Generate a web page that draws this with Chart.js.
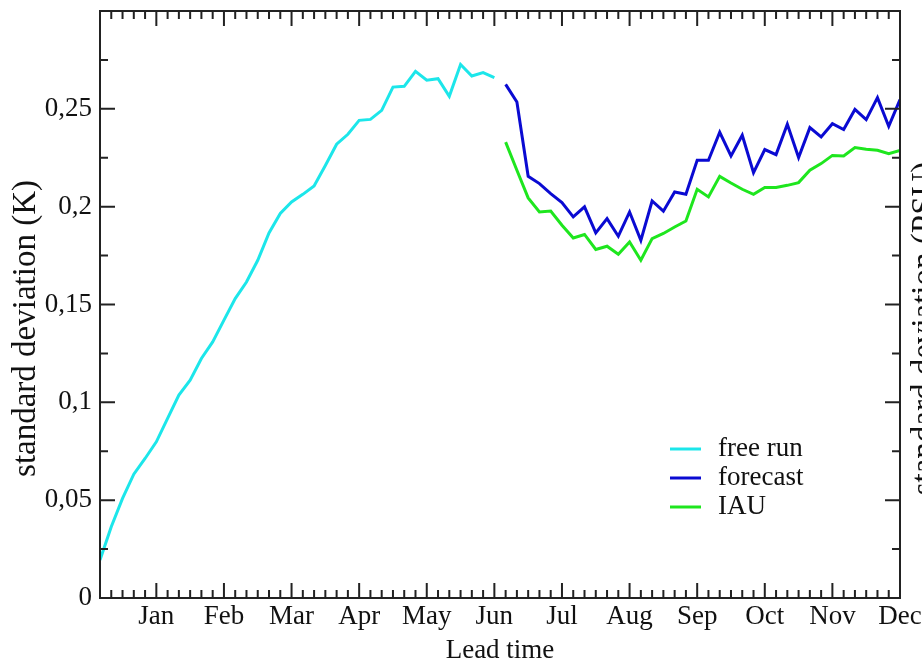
<!DOCTYPE html>
<html>
<head>
<meta charset="utf-8">
<script src="https://cdn.jsdelivr.net/npm/chart.js@4.4.1/dist/chart.umd.min.js"></script>
<style>
    html, body { margin: 0; padding: 0; background: #fff; overflow: hidden; }
    #caixa { width: 922px; height: 667px; }
</style>
</head>
<body>
<div id="caixa"><canvas id="graficoDesvio" width="922" height="667"></canvas></div>
<script>
// Passos de lead time (1..72), um mês = 6 passos
const meses = ['Jan', 'Feb', 'Mar', 'Apr', 'May', 'Jun', 'Jul', 'Aug', 'Sep', 'Oct', 'Nov', 'Dec'];
const posicaoMeses = [6, 12, 18, 24, 30, 36, 42, 48, 54, 60, 66, 72];
const yValoresTicks = [0, 0.05, 0.1, 0.15, 0.2, 0.25, 0.3];
const yRotulos = ['0', '0,05', '0,1', '0,15', '0,2', '0,25', ''];

const inicioFreeRun = 1;
const inicioForecast = 37;

const freeRun = [
    0.0194, 0.0364, 0.0509, 0.0633, 0.0713, 0.0798, 0.0918, 0.1037, 0.1113, 0.1224,
    0.1309, 0.1420, 0.1530, 0.1615, 0.1726, 0.1866, 0.1965, 0.2024, 0.2063, 0.2106,
    0.2210, 0.2319, 0.2370, 0.2441, 0.2446, 0.2492, 0.2611, 0.2615, 0.2692, 0.2646,
    0.2654, 0.2564, 0.2727, 0.2668, 0.2685, 0.2660
];
const forecast = [
    0.2625, 0.2535, 0.2155, 0.2118, 0.2067, 0.2021, 0.1948, 0.1999, 0.1866, 0.1939,
    0.1849, 0.1973, 0.1828, 0.2029, 0.1977, 0.2075, 0.2063, 0.2237, 0.2237, 0.2380,
    0.2259, 0.2365, 0.2174, 0.2292, 0.2266, 0.2421, 0.2251, 0.2404, 0.2356, 0.2424,
    0.2394, 0.2497, 0.2445, 0.2557, 0.2411, 0.2547
];
const iau = [
    0.2330, 0.2186, 0.2045, 0.1973, 0.1978, 0.1905, 0.1840, 0.1858, 0.1781, 0.1798,
    0.1757, 0.1820, 0.1726, 0.1837, 0.1863, 0.1896, 0.1927, 0.2089, 0.2050, 0.2155,
    0.2121, 0.2089, 0.2063, 0.2098, 0.2098, 0.2109, 0.2123, 0.2186, 0.2220, 0.2262,
    0.2259, 0.2302, 0.2293, 0.2288, 0.2271, 0.2288
];

const tituloEsquerda = 'standard deviation (K)';
const tituloDireita = 'standard deviation (PSU)';
const FONTE = "'Liberation Serif', 'Times New Roman', serif";

document.addEventListener("DOMContentLoaded", () => {
    criarGrafico();
});

// Converte a série para pares {x, y}
function paraPontos(valores, inicio) {
    return valores.map((v, i) => ({ x: inicio + i, y: v }));
}

// Texto girado (títulos verticais)
function textoVertical(ctx, texto, x, y, tamanho) {
    ctx.save();
    ctx.translate(x, y);
    ctx.rotate(-Math.PI / 2);
    ctx.textAlign = 'center';
    ctx.textBaseline = 'alphabetic';
    ctx.font = `${tamanho}px ${FONTE}`;
    ctx.fillStyle = '#111';
    ctx.fillText(texto, 0, 0);
    ctx.restore();
}

// Moldura com ticks para dentro nos quatro lados + legenda + títulos verticais
const pluginMoldura = {
    id: 'moldura',
    afterDraw(chart) {
        const { ctx, chartArea: a, scales: { x, y } } = chart;
        ctx.save();
        ctx.strokeStyle = '#222';
        ctx.lineWidth = 2;
        ctx.beginPath();
        for (let v = x.min + 1; v < x.max; v++) {
            const px = x.getPixelForValue(v);
            const len = v % 6 === 0 ? 15 : 8;
            ctx.moveTo(px, a.bottom); ctx.lineTo(px, a.bottom - len);
            ctx.moveTo(px, a.top); ctx.lineTo(px, a.top + len);
        }
        for (let i = 1; i < 12; i++) {
            const py = y.getPixelForValue(i * 0.025);
            const len = i % 2 === 0 ? 15 : 8;
            ctx.moveTo(a.left, py); ctx.lineTo(a.left + len, py);
            ctx.moveTo(a.right, py); ctx.lineTo(a.right - len, py);
        }
        ctx.stroke();
        ctx.strokeRect(a.left, a.top, a.right - a.left, a.bottom - a.top);

        // legenda dentro da área
        ctx.font = `27px ${FONTE}`;
        ctx.textBaseline = 'middle';
        ctx.fillStyle = '#111';
        chart.data.datasets.forEach((ds, i) => {
            const ly = a.top + 438 + i * 29;
            ctx.strokeStyle = ds.borderColor;
            ctx.lineWidth = 3;
            ctx.beginPath();
            ctx.moveTo(a.left + 570, ly); ctx.lineTo(a.left + 601, ly);
            ctx.stroke();
            ctx.fillText(ds.label, a.left + 618, ly);
        });
        ctx.restore();

        const meio = (a.top + a.bottom) / 2 + 24;
        textoVertical(ctx, tituloEsquerda, 35, meio, 33);
        // eixo direito: cortado na borda da imagem
        textoVertical(ctx, tituloDireita, a.right + 34, meio, 33);
    }
};

function criarGrafico() {
    const ctx = document.getElementById("graficoDesvio");
    if (!ctx) {
        console.error("Canvas não encontrado.");
        return;
    }

    Chart.defaults.font.family = FONTE;
    Chart.defaults.font.size = 27;
    Chart.defaults.color = '#111';

    new Chart(ctx.getContext("2d"), {
        type: "line",
        data: {
            datasets: [
                { label: 'free run', data: paraPontos(freeRun, inicioFreeRun), borderColor: '#1ce6ea' },
                { label: 'forecast', data: paraPontos(forecast, inicioForecast), borderColor: '#0a0ad2' },
                { label: 'IAU', data: paraPontos(iau, inicioForecast), borderColor: '#1ee61e' }
            ].map(ds => ({ ...ds, borderWidth: 3, pointRadius: 0, fill: false, tension: 0 }))
        },
        options: {
            responsive: false,
            animation: false,
            layout: { padding: { top: 11, right: 22, left: 0, bottom: 0 } },
            plugins: {
                legend: { display: false },
                tooltip: { enabled: false }
            },
            scales: {
                x: {
                    type: 'linear',
                    min: 1,
                    max: 72,
                    afterBuildTicks: s => { s.ticks = posicaoMeses.map(v => ({ value: v })); },
                    afterFit: s => { s.height = 69; s.paddingLeft = 0; s.paddingRight = 0; },
                    ticks: {
                        maxRotation: 0,
                        autoSkip: false,
                        padding: 3,
                        callback: (v, i) => meses[i]
                    },
                    grid: { display: false, drawTicks: false },
                    border: { display: false },
                    title: { display: true, text: 'Lead time', font: { size: 27 }, padding: 0 }
                },
                y: {
                    min: 0,
                    max: 0.3,
                    afterBuildTicks: s => { s.ticks = yValoresTicks.map(v => ({ value: v })); },
                    afterFit: s => { s.width = 100; s.paddingTop = 0; s.paddingBottom = 0; },
                    ticks: {
                        padding: 8,
                        callback: (v, i) => yRotulos[i]
                    },
                    grid: { display: false, drawTicks: false },
                    border: { display: false }
                }
            }
        },
        plugins: [pluginMoldura]
    });
}
</script>
</body>
</html>
